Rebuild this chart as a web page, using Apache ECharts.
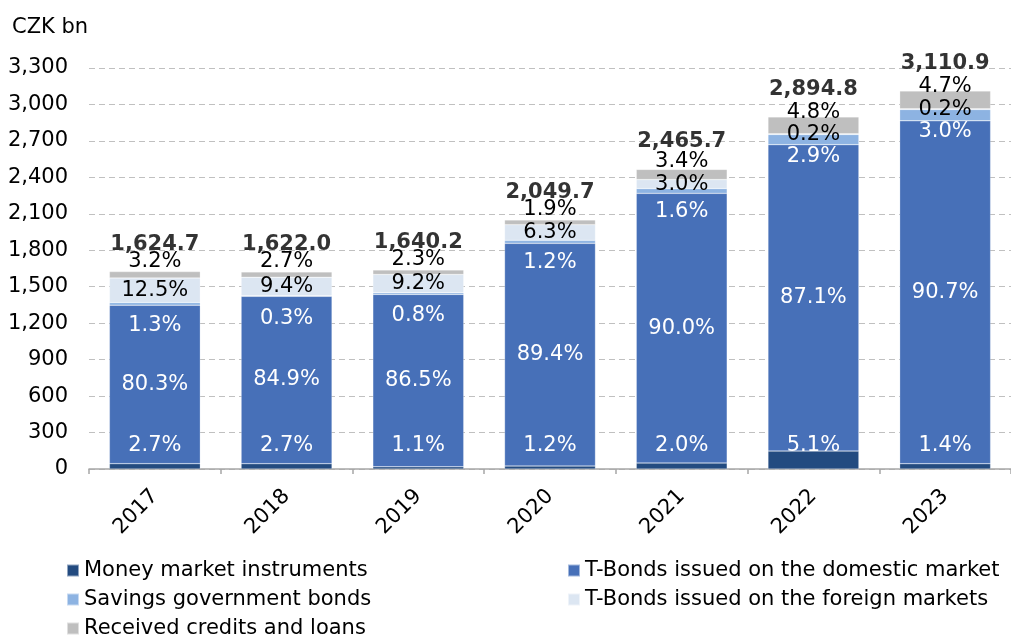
<!DOCTYPE html>
<html>
<head>
<meta charset="utf-8">
<script src="https://cdn.jsdelivr.net/npm/echarts@6/dist/echarts.min.js"></script>
<style>
    html, body { margin: 0; padding: 0; background: #fff; }
    #chart { width: 1011px; height: 635px; }
</style>
</head>
<body>
<div id="chart"></div>
<script>
    'use strict';

    // years on the x axis
    var years = ['2017', '2018', '2019', '2020', '2021', '2022', '2023'];
    // total state debt, CZK bn (bold labels above the bars)
    var totals = [1624.7, 1622.0, 1640.2, 2049.7, 2465.7, 2894.8, 3110.9];
    // share of each component in the total, %
    var moneyMarketPct = [2.7, 2.7, 1.1, 1.2, 2.0, 5.1, 1.4];
    var domesticPct = [80.3, 84.9, 86.5, 89.4, 90.0, 87.1, 90.7];
    var savingsPct = [1.3, 0.3, 0.8, 1.2, 1.6, 2.9, 3.0];
    var foreignPct = [12.5, 9.4, 9.2, 6.3, 3.0, 0.2, 0.2];
    var creditsPct = [3.2, 2.7, 2.3, 1.9, 3.4, 4.8, 4.7];
    // y axis ticks
    var yMin = 0, yMax = 3300, yStep = 300;

    var font = '"DejaVu Sans", Verdana, sans-serif';
    var fs = 21;

    function toBn(pct) {
        return pct.map(function(p, i) { return +(p * totals[i] / 100).toFixed(1); });
    }

    function pctLabel(arr) {
        return function(p) { return arr[p.dataIndex].toFixed(1) + '%'; };
    }

    function barSeries(name, pct, color, label) {
        label.show = true;
        label.fontFamily = font;
        label.fontSize = fs;
        label.formatter = pctLabel(pct);
        return {
            name: name,
            type: 'bar',
            stack: 'debt',
            barWidth: '69%',
            data: toBn(pct),
            itemStyle: { color: color, borderColor: 'rgba(255,255,255,0.5)', borderWidth: 0.5 },
            label: label,
            emphasis: { disabled: true }
        };
    }

    var legendText = { fontFamily: font, fontSize: fs, lineHeight: 21, color: '#000' };

    var myChart = echarts.init(document.getElementById('chart'), null, { renderer: 'canvas' });

    var option = {
        animation: false,
        title: {
            text: 'CZK bn',
            left: 7,
            top: 12,
            textStyle: { fontFamily: font, fontSize: fs, fontWeight: 'normal', color: '#000' }
        },
        legend: [{
            orient: 'vertical',
            left: 61,
            top: 555,
            height: 120,
            itemWidth: 12,
            itemHeight: 12,
            itemGap: 8,
            icon: 'rect',
            data: ['Money market instruments', 'Savings government bonds', 'Received credits and loans'],
            textStyle: legendText
        }, {
            orient: 'vertical',
            left: 562,
            top: 555,
            height: 120,
            itemWidth: 12,
            itemHeight: 12,
            itemGap: 8,
            icon: 'rect',
            data: ['T-Bonds issued on the domestic market', 'T-Bonds issued on the foreign markets'],
            textStyle: legendText
        }],
        grid: { left: 89, right: -7, top: 68, bottom: 166, containLabel: false },
        xAxis: {
            type: 'category',
            data: years,
            axisLine: { lineStyle: { color: '#a6a6a6', width: 1.5 } },
            axisTick: { show: true, length: 5, lineStyle: { color: '#a6a6a6', width: 1.5 } },
            axisLabel: { rotate: 45, fontFamily: font, fontSize: fs, color: '#000', margin: 24 }
        },
        yAxis: {
            type: 'value',
            min: yMin,
            max: yMax,
            interval: yStep,
            axisLine: { show: false },
            axisTick: { show: false },
            axisLabel: {
                fontFamily: font, fontSize: fs, color: '#000', margin: 21,
                formatter: function(v) { return v.toLocaleString('en-US'); }
            },
            splitLine: { lineStyle: { color: '#c0c0c0', type: [6, 4], width: 1 } }
        },
        series: [
            barSeries('Money market instruments', moneyMarketPct, '#234b80',
                { position: 'insideBottom', distance: 13, color: '#fff' }),
            barSeries('T-Bonds issued on the domestic market', domesticPct, '#4770b8',
                { position: 'inside', color: '#fff' }),
            barSeries('Savings government bonds', savingsPct, '#8db3e2',
                { position: 'insideTop', distance: 12, color: '#fff' }),
            barSeries('T-Bonds issued on the foreign markets', foreignPct, '#dce6f2',
                { position: 'inside', color: '#000' }),
            barSeries('Received credits and loans', creditsPct, '#bfbfbf',
                { position: 'inside', offset: [0, -13], color: '#000' }),
            {
                name: 'Total',
                type: 'scatter',
                data: totals,
                symbolSize: 0,
                itemStyle: { color: '#000' },
                label: {
                    show: true,
                    position: 'top',
                    distance: 17,
                    fontFamily: font,
                    fontSize: fs,
                    fontWeight: 'bold',
                    color: '#000',
                    formatter: function(p) {
                        return p.value.toLocaleString('en-US', { minimumFractionDigits: 1, maximumFractionDigits: 1 });
                    }
                },
                emphasis: { disabled: true },
                z: 5
            }
        ]
    };

    myChart.setOption(option);
</script>
</body>
</html>
